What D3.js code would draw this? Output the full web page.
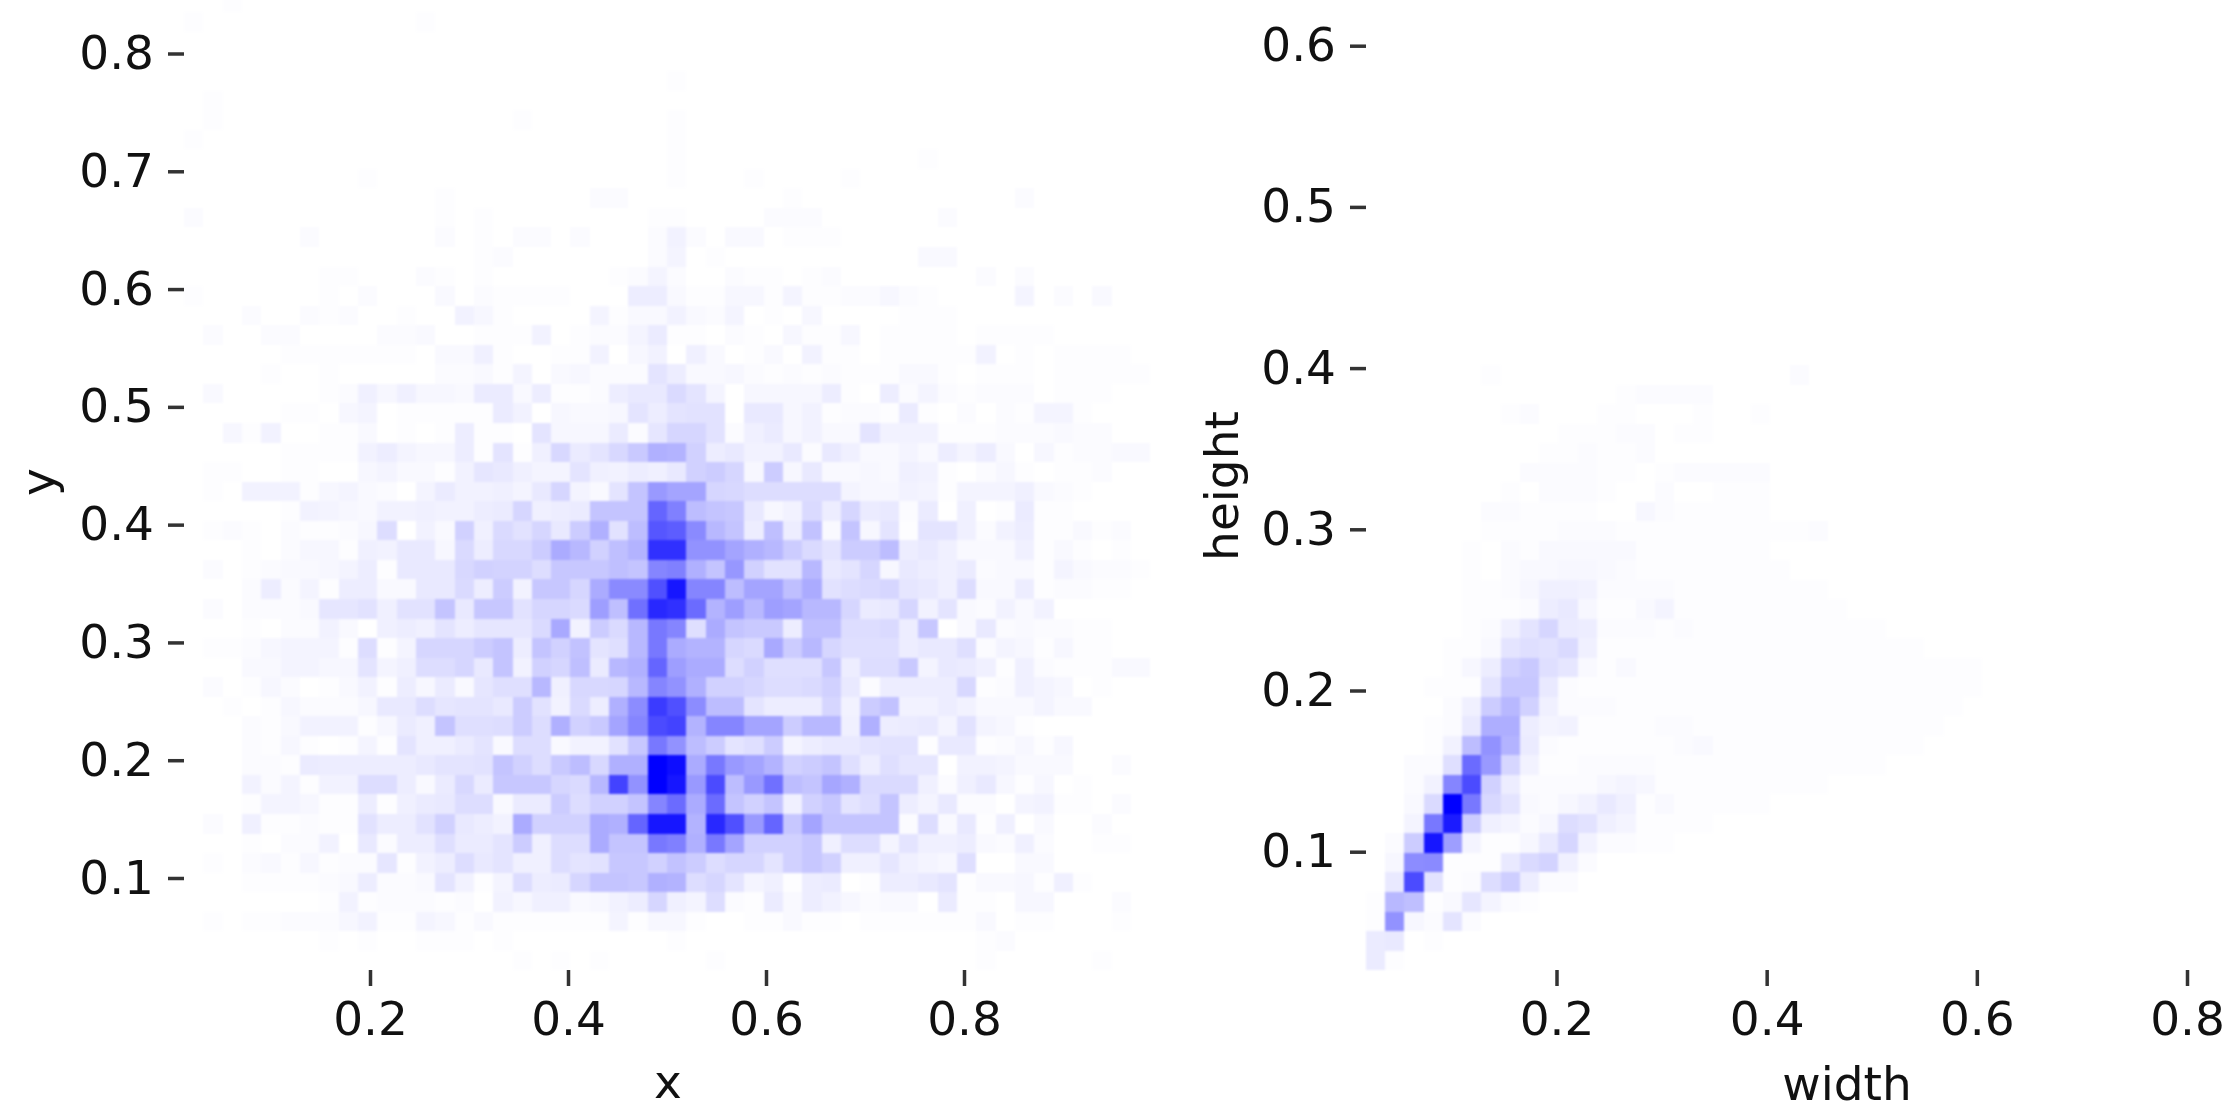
<!DOCTYPE html>
<html>
<head>
<meta charset="utf-8">
<script src="https://cdn.jsdelivr.net/npm/d3@7"></script>
<style>
html,body{margin:0;padding:0;background:#fff;}
svg{display:block;}
text{font-family:"DejaVu Sans",sans-serif;fill:#111;}
.cells{filter:blur(1.3px);}
.labels{filter:blur(0.7px);}
</style>
</head>
<body>
<svg id="chart" width="2239" height="1116"></svg>
<script>
// Left histogram: position. Intensity in percent of the peak; rows run from the top bin down.
const xyBinStartX = 0.0121, xyBinWidthX = 0.01952;
const xyBinTopY = 0.8515, xyBinHeightY = 0.0166;
const xyRows = [
[0,0,1],
[1,0,0,0,0,0,0,0,0,0,0,0,1],
[],
[],
[0,0,0,0,0,0,0,0,0,0,0,0,0,0,0,0,0,0,0,0,0,0,0,0,0,1],
[0,1],
[0,1,0,0,0,0,0,0,0,0,0,0,0,0,0,0,0,1,0,0,0,0,0,0,0,1],
[1,0,0,0,0,0,0,0,0,0,0,0,0,0,0,0,0,0,0,0,0,0,0,0,0,1],
[0,0,0,0,0,0,0,0,0,0,0,0,0,0,0,0,0,0,0,0,0,0,0,0,0,1,0,0,0,0,0,0,0,0,0,0,0,0,1],
[0,0,0,0,0,0,0,0,0,1,0,0,0,0,0,0,0,0,0,0,0,0,0,0,0,1,0,0,0,1,0,0,0,0,1],
[0,0,0,0,0,0,0,0,0,0,0,0,0,1,0,0,0,0,0,0,0,2,2,0,0,0,0,0,0,0,0,1,0,0,0,0,0,0,0,0,0,0,0,2],
[2,0,0,0,0,0,0,0,0,0,0,0,0,1,0,1,0,0,0,0,0,0,0,0,1,1,0,0,0,0,2,2,2,0,0,0,0,0,0,2],
[0,0,0,0,0,0,2,0,0,0,0,0,0,2,0,1,0,2,2,0,2,0,0,0,2,6,2,0,3,3,0,1,1,1],
[0,0,0,0,0,0,0,0,0,0,0,0,0,0,0,1,2,0,0,0,0,0,0,0,2,5,0,1,0,0,0,0,0,0,0,0,0,0,3,3],
[0,0,0,0,0,0,0,1,1,0,0,0,2,1,0,1,0,0,0,0,0,0,1,2,5,2,0,0,2,1,1,0,1,2,0,0,0,0,0,0,0,2,0,2],
[1,0,0,0,0,0,0,1,0,2,0,0,0,3,0,2,1,1,1,1,0,0,0,8,8,3,1,1,4,4,1,5,1,1,2,2,4,2,1,0,0,0,0,5,0,2,0,3],
[0,0,0,2,0,0,2,1,2,0,0,1,0,0,6,4,1,0,0,0,0,5,1,3,3,6,3,2,5,0,1,0,4,0,0,0,0,1,1,1],
[0,2,0,0,2,2,0,0,0,0,2,2,3,0,0,1,1,1,6,0,1,2,2,5,9,1,1,0,2,1,0,4,1,1,4,0,1,1,1,1,0,1,1,1,1],
[0,0,0,0,0,1,1,1,1,1,1,1,0,3,3,7,1,0,0,1,1,6,0,4,6,0,7,3,0,1,3,0,6,1,1,0,1,1,1,1,1,6,0,1,0,1,1,1,1],
[0,0,0,0,1,0,0,1,0,0,0,0,0,2,2,3,1,5,0,3,4,2,2,2,12,8,3,3,4,2,1,2,1,2,1,1,1,3,3,1,0,1,1,1,0,1,1,1,1,1],
[0,3,0,0,0,0,0,1,2,7,4,7,4,4,3,9,9,3,8,1,1,2,8,10,10,16,12,5,0,4,4,4,4,8,1,0,8,2,5,2,1,2,2,2,0,1,1,1],
[0,0,0,0,0,1,1,0,4,5,0,1,1,1,1,1,9,6,0,4,3,3,4,12,8,12,13,13,0,10,10,4,6,1,2,2,1,9,1,0,2,0,2,1,5,5,1],
[0,0,4,1,6,0,0,1,1,3,0,1,0,1,8,1,1,0,12,4,4,4,9,2,11,18,18,13,2,7,9,4,6,3,3,12,6,6,6,1,1,1,2,2,2,3,2,2],
[0,0,0,0,0,1,1,1,1,6,8,5,4,4,8,1,12,1,7,17,9,12,17,23,33,32,20,8,10,6,6,10,2,10,7,3,3,5,3,8,5,8,3,0,4,1,2,2,3,3],
[0,1,1,0,0,1,1,0,0,4,5,3,3,1,6,11,10,7,5,5,12,7,6,8,7,10,20,22,18,4,22,4,10,3,3,4,3,7,6,1,0,2,4,1,0,1,1,2],
[0,1,0,6,6,6,1,4,5,3,2,0,5,9,6,6,7,5,10,18,5,3,12,25,42,38,38,18,17,15,15,15,15,15,5,4,4,6,5,1,5,5,5,7,3,2,1],
[0,0,0,0,0,1,6,5,4,3,6,6,7,6,6,8,9,18,7,8,9,25,25,25,62,52,28,25,24,10,4,6,16,8,18,9,10,2,9,0,7,0,1,9,1,1],
[0,1,2,1,0,2,1,1,2,4,15,0,6,3,20,7,16,13,18,10,22,33,13,28,68,65,48,30,25,8,27,8,26,3,25,4,12,1,12,12,7,2,6,8,1,1,3,1,2],
[0,0,0,1,0,2,4,4,1,7,6,10,10,4,16,8,17,17,22,35,30,20,27,32,82,82,45,45,38,33,30,22,16,12,22,22,28,8,10,7,3,3,3,7,1,3,1,0,1],
[0,2,0,1,2,3,3,4,5,8,1,10,10,10,17,20,19,19,15,24,24,24,27,25,50,52,33,25,43,20,13,13,30,10,12,18,4,10,8,7,9,2,3,3,1,5,3,2,2,1],
[0,0,0,2,8,2,5,1,8,8,3,3,10,10,16,8,22,6,24,24,18,35,48,48,70,92,50,50,28,38,38,27,35,13,15,16,18,11,10,7,15,3,3,8,1,2,2,1,1],
[0,2,0,2,2,2,3,11,11,13,7,13,13,25,10,24,24,13,18,18,16,40,27,58,85,82,60,32,40,30,40,38,30,30,18,9,10,18,6,12,3,2,6,3,6],
[0,0,0,1,0,2,2,6,3,0,7,8,7,12,8,11,11,11,16,36,6,22,16,30,55,50,14,35,25,23,23,8,27,27,15,15,16,8,24,0,3,10,2,3,2,2,1,1],
[0,1,1,2,4,5,5,5,1,15,1,5,18,18,18,22,25,8,25,20,26,12,14,30,55,35,32,32,18,16,36,22,30,18,14,14,14,8,10,10,14,2,5,4,1,4,1,1],
[0,0,0,3,3,5,5,4,4,12,5,7,15,15,18,10,25,6,20,18,27,9,30,33,62,40,35,35,15,20,14,14,14,24,8,15,15,23,5,10,9,7,1,7,2,1,1,1,3,3],
[0,2,0,1,4,2,0,1,3,6,1,8,4,9,3,11,14,14,30,7,17,17,18,30,50,45,33,20,20,18,15,15,16,20,10,2,8,8,8,8,17,1,2,7,5,4,0,1],
[0,0,1,0,1,4,2,2,2,4,10,10,15,11,12,12,10,22,13,6,16,8,33,47,78,70,47,28,28,12,8,8,8,18,6,22,26,6,6,8,6,3,3,3,5,3,3],
[0,0,0,2,1,3,6,6,6,1,4,9,7,25,14,14,15,22,15,33,20,23,38,50,72,75,32,50,50,38,38,22,30,30,7,33,8,9,10,5,13,5,4,1],
[0,0,0,2,1,4,1,0,1,5,1,12,7,7,9,12,3,15,15,3,6,6,13,24,55,45,28,22,12,14,22,5,8,10,10,12,13,13,1,10,10,1,2,4,1,4],
[0,0,0,2,2,1,9,8,8,8,8,8,10,12,12,13,25,20,15,23,28,17,33,33,100,95,35,55,42,38,32,20,22,25,14,8,14,11,11,0,6,6,5,3,3,3,0,0,2],
[0,0,0,6,2,5,1,6,6,15,15,8,3,9,17,9,24,24,24,18,16,30,75,45,100,92,42,72,28,42,58,28,25,37,33,16,16,16,7,2,7,10,4,1,4,0,1],
[0,0,0,1,5,5,4,1,1,8,1,7,9,10,15,15,3,9,9,22,15,20,20,25,50,60,35,60,25,20,25,7,20,24,12,15,25,8,5,10,2,2,0,5,6,1,1,0,2],
[0,2,0,7,1,1,2,1,1,13,8,8,13,20,10,8,6,35,20,20,20,35,33,62,92,92,32,85,70,42,62,24,38,25,25,25,25,2,15,3,10,1,7,0,3,0,0,2],
[0,0,0,1,0,2,2,6,0,10,2,8,8,14,9,9,12,22,7,15,15,35,25,25,55,52,33,55,38,20,20,20,24,7,15,15,5,12,7,7,8,3,2,7,2,0,0,1,1],
[0,1,0,2,3,1,4,1,2,2,11,1,6,8,15,10,12,7,7,15,12,13,24,24,20,26,22,15,18,18,12,20,24,20,7,7,11,7,5,4,14,0,0,3,3],
[0,0,0,1,1,1,1,2,3,8,2,2,3,12,6,1,5,15,8,9,18,25,25,24,33,32,15,18,12,5,7,1,8,9,0,1,8,8,10,12,1,3,3,4,1,7,1],
[0,0,0,0,0,0,0,1,6,1,2,2,2,1,2,0,6,4,7,7,3,4,6,8,18,7,5,15,2,1,9,3,8,6,4,2,3,3,0,9,1,1,0,4,4,0,0,0,2],
[0,1,0,1,1,2,2,2,4,6,1,1,5,4,1,3,1,1,1,1,1,1,5,1,4,4,1,0,0,1,1,3,1,1,0,1,1,1,1,1,1,3,0,1,1,0,0,0,1],
[0,0,0,0,0,0,0,1,0,1,0,0,1,1,1,0,1,0,0,0,0,0,0,0,0,1,0,0,0,0,0,0,0,0,0,0,0,0,0,0,0,1,2],
[0,0,0,0,0,0,0,0,0,0,0,0,0,0,0,0,0,1,0,1,0,1,0,0,0,0,0,1,0,0,0,0,0,0,0,0,0,0,0,0,0,1,0,0,0,0,0,1]
];

// Right histogram: size. Rows run from the bottom bin up.
const whBinStartX = 0.0187, whBinWidthX = 0.01832;
const whBinBottomY = 0.0266, whBinHeightY = 0.0121;
const whRows = [
[9,1],
[9,10,0,1],
[1,45,4,2,12,2],
[1,30,27,1,3,11,5,2,1],
[0,10,72,13,1,2,15,21,8,2,2],
[0,4,47,48,1,1,1,10,16,19,7,2],
[0,2,22,92,40,5,1,1,4,10,18,6,2,2,1,1],
[0,0,5,55,90,22,7,5,2,4,15,13,7,5,1,1,1,1],
[0,0,3,16,100,55,17,12,3,2,4,6,10,7,1,3,1,1,1,1,1],
[0,0,2,6,50,72,20,8,2,2,2,2,4,5,4,1,1,1,1,1,1,1,1,1],
[0,0,2,2,14,60,42,18,6,1,1,2,2,2,2,1,1,1,1,1,1,1,1,1,1,1,1],
[0,0,0,1,6,28,45,32,9,2,1,1,1,1,1,1,2,3,1,1,1,1,1,1,1,1,1,1,1],
[0,0,0,1,2,10,34,34,8,5,6,1,1,1,1,2,2,1,1,1,1,1,1,1,1,1,1,1,1,1],
[0,0,0,0,2,7,22,30,20,7,2,2,2,1,1,1,1,1,1,1,1,1,1,1,1,1,1,1,1,1,1],
[0,0,0,1,1,1,12,24,24,10,2,1,1,1,1,1,1,1,1,1,1,1,1,1,1,1,1,1,1,1,1,1],
[0,0,0,0,1,4,8,20,23,14,11,3,1,3,1,1,1,1,1,1,1,1,1,1,1,1,1,1,1,1,1,1],
[0,0,0,0,1,1,3,12,14,13,16,7,1,1,1,1,1,1,1,1,1,1,1,1,1,1,1,1,1],
[0,0,0,0,0,1,2,7,12,18,9,8,2,2,2,1,2,1,1,1,1,1,1,1,1,1,1],
[0,0,0,0,0,1,1,1,2,8,10,4,1,1,3,5,1,1,1,1,1,1,1,1,1],
[0,0,0,0,0,1,1,2,4,7,7,6,2,2,2,2,1,1,1,1,1,1,1,1],
[0,0,0,0,0,1,0,2,3,3,4,4,3,2,1,1,1,1,1,1,1,1],
[0,0,0,0,0,1,0,2,1,3,3,3,3,3,1,1,1,1,1,1,1],
[0,0,0,0,0,0,1,1,1,1,2,2,2,1,1,1,1,1,1,1,1,1,1,2],
[0,0,0,0,0,0,2,2,1,1,1,1,0,0,4,2,1,1,1,1,1],
[0,0,0,0,0,0,0,1,0,2,2,2,1,0,0,2,0,0,1,1,1],
[0,0,0,0,0,0,0,0,2,2,2,2,1,1,0,1,2,2,2,2,2],
[0,0,0,0,0,0,0,0,0,1,1,2,1,1,2],
[0,0,0,0,0,0,0,0,0,0,1,1,1,2,2,0,1,1],
[0,0,0,0,0,0,0,1,2,0,0,0,1,1,0,0,0,1,0,0,1],
[0,0,0,0,0,0,0,0,0,0,0,0,0,1,2,2,2,2],
[0,0,0,0,0,0,1,0,0,0,0,0,0,0,0,0,0,0,0,0,0,0,2]
];

const xyTicksX = [0.2, 0.4, 0.6, 0.8];
const xyTicksY = [0.1, 0.2, 0.3, 0.4, 0.5, 0.6, 0.7, 0.8];
const whTicksX = [0.2, 0.4, 0.6, 0.8];
const whTicksY = [0.1, 0.2, 0.3, 0.4, 0.5, 0.6];
const xLabels = ["x", "width"];
const yLabels = ["y", "height"];

const svg = d3.select("#chart");
const color = d3.scalePow().exponent(1.06).domain([0, 100]).range(["#ffffff", "#0000ff"]);
const fmt = d3.format(".1f");

const xy = {
  x: d3.scaleLinear().domain([0.2, 0.8]).range([370, 964]),
  y: d3.scaleLinear().domain([0.1, 0.8]).range([878, 53.5]),
  axisX: 184, axisY: 970
};
const wh = {
  x: d3.scaleLinear().domain([0.2, 0.8]).range([1556.5, 2187]),
  y: d3.scaleLinear().domain([0.1, 0.6]).range([851.7, 45.7]),
  axisX: 1366, axisY: 970
};

const xyCells = xyRows.flatMap((row, r) => row.map((v, c) => ({
  x0: xyBinStartX + c * xyBinWidthX, x1: xyBinStartX + (c + 1) * xyBinWidthX,
  y1: xyBinTopY - r * xyBinHeightY, y0: xyBinTopY - (r + 1) * xyBinHeightY, v
}))).filter(d => d.v > 0);

const whCells = whRows.flatMap((row, r) => row.map((v, c) => ({
  x0: whBinStartX + c * whBinWidthX, x1: whBinStartX + (c + 1) * whBinWidthX,
  y0: whBinBottomY + r * whBinHeightY, y1: whBinBottomY + (r + 1) * whBinHeightY, v
}))).filter(d => d.v > 0);

function panel(p, cells, ticksX, ticksY, xLabel, yLabel, xLabelPos, yLabelPos) {
  const cellLayer = svg.append("g").attr("class", "cells");
  const g = svg.append("g").attr("class", "labels");
  cellLayer.selectAll("rect").data(cells).join("rect")
    .attr("shape-rendering", "crispEdges")
    .attr("x", d => p.x(d.x0))
    .attr("y", d => p.y(d.y1))
    .attr("width", d => p.x(d.x1) - p.x(d.x0))
    .attr("height", d => p.y(d.y0) - p.y(d.y1))
    .attr("fill", d => color(d.v));

  const ax = g.append("g").attr("transform", `translate(0,${p.axisY})`)
    .call(d3.axisBottom(p.x).tickValues(ticksX).tickFormat(fmt).tickSize(16).tickPadding(16));
  const ay = g.append("g").attr("transform", `translate(${p.axisX},0)`)
    .call(d3.axisLeft(p.y).tickValues(ticksY).tickFormat(fmt).tickSize(16).tickPadding(14));
  for (const a of [ax, ay]) {
    a.attr("font-family", null).attr("font-size", null);
    a.select(".domain").remove();
    a.selectAll("line").attr("stroke", "#333").attr("stroke-width", 3.5);
    a.selectAll("text").style("font-size", "47px");
  }
  g.append("text").attr("x", xLabelPos[0]).attr("y", xLabelPos[1])
    .attr("text-anchor", "middle").style("font-size", "47px").text(xLabel);
  g.append("text").attr("transform", `translate(${yLabelPos[0]},${yLabelPos[1]}) rotate(-90)`)
    .attr("text-anchor", "middle").style("font-size", "47px").text(yLabel);
}

panel(xy, xyCells, xyTicksX, xyTicksY, xLabels[0], yLabels[0], [668, 1098], [54, 482]);
panel(wh, whCells, whTicksX, whTicksY, xLabels[1], yLabels[1], [1847, 1100], [1238, 486]);
</script>
</body>
</html>
